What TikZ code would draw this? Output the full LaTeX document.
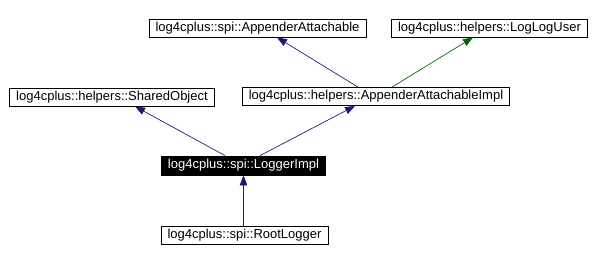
\documentclass[tikz,border=0pt]{standalone}
\usepackage{fontspec}
\setmainfont{Liberation Sans}
\usetikzlibrary{arrows.meta}
\definecolor{edgeblue}{RGB}{25,25,112}
\definecolor{edgegreen}{RGB}{0,100,0}
\begin{document}
\begin{tikzpicture}[x=1pt, y=-1pt, >={Triangle[length=10pt,width=7.5pt]},
    every node/.style={font=\fontsize{13}{15}\selectfont},
    classbox/.style={draw=black, line width=0.8pt, fill=white, inner xsep=6.5pt, inner ysep=0pt, minimum height=18pt},
    currentbox/.style={classbox, fill=black, text=white, minimum height=19pt},
    inherit/.style={->, draw=edgeblue, fill=edgeblue, line width=0.6pt},
    uses/.style={->, draw=edgegreen, fill=edgegreen, line width=0.6pt}]
    % 1. 画布范围
    \useasboundingbox (0,0) rectangle (594,262);

    % 2. 类节点
    \node[classbox] (attachable) at (257.5,28) {log4cplus::spi::AppenderAttachable};
    \node[classbox] (loglog) at (489.5,28) {log4cplus::helpers::LogLogUser};
    \node[classbox] (attachimpl) at (376,96.5) {log4cplus::helpers::AppenderAttachableImpl};
    \node[classbox] (shared) at (112,97) {log4cplus::helpers::SharedObject};
    \node[currentbox] (loggerimpl) at (243.5,165.5) {log4cplus::spi::LoggerImpl};
    \node[classbox] (rootlogger) at (244.5,235.5) {log4cplus::spi::RootLogger};

    % 3. 继承关系
    \draw[inherit] ([xshift=-18.5]loggerimpl.north) -- ([xshift=23]shared.south);
    \draw[inherit] ([xshift=16.5]loggerimpl.north) -- ([xshift=-21]attachimpl.south);
    \draw[inherit] ([xshift=-18]attachimpl.north) -- ([xshift=19.5]attachable.south);
    \draw[uses] ([xshift=16]attachimpl.north) -- ([xshift=-16.5]loglog.south);
    \draw[inherit] ([xshift=-1]rootlogger.north) -- (loggerimpl.south);
\end{tikzpicture}
\end{document}
